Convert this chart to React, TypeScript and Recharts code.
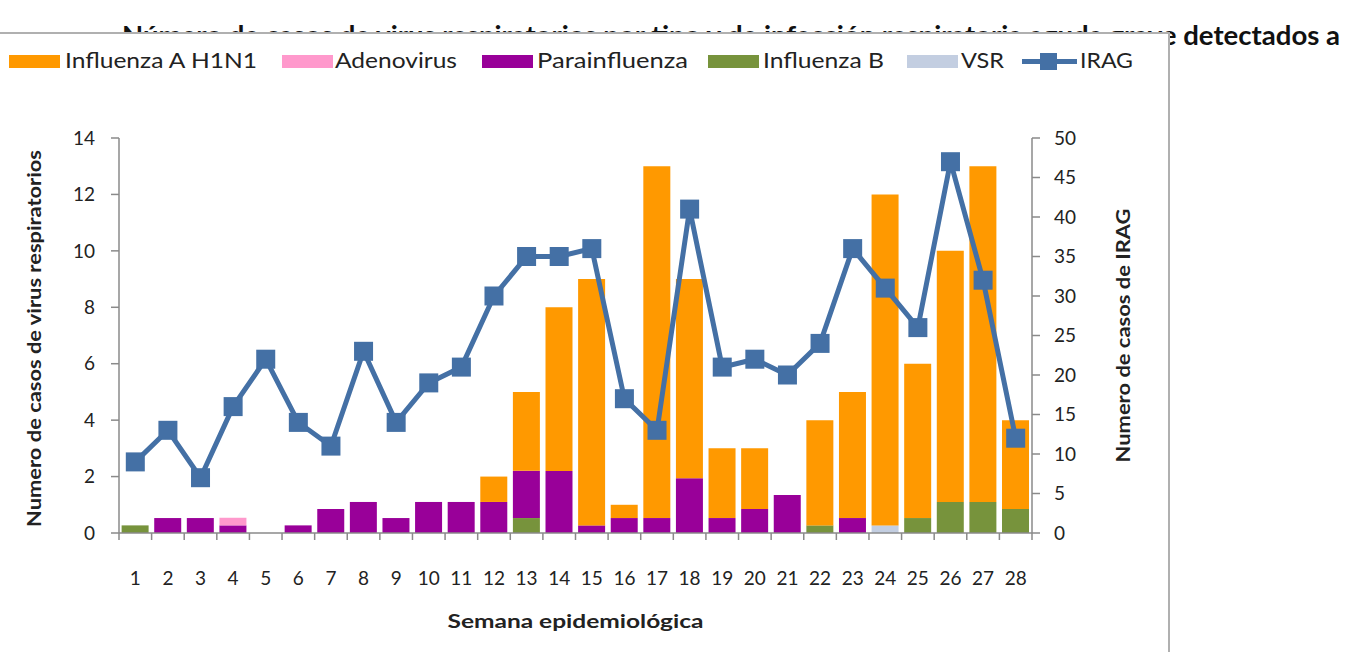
import React from 'react';
import { ComposedChart, Bar, Line, XAxis, YAxis } from 'recharts';

// ---------- data ----------
const weeks = ['1','2','3','4','5','6','7','8','9','10','11','12','13','14','15','16','17','18','19','20','21','22','23','24','25','26','27','28'];
// stacked segment heights (left axis)
const influenzaB = [0.27,0,0,0,0,0,0,0,0,0,0,0,0.53,0,0,0,0,0,0,0,0,0.27,0,0,0.53,1.1,1.1,0.85];
const vsr =        [0,0,0,0,0,0,0,0,0,0,0,0,0,0,0,0,0,0,0,0,0,0,0,0.27,0,0,0,0];
const parainfluenza = [0,0.53,0.53,0.27,0,0.27,0.85,1.1,0.53,1.1,1.1,1.1,1.68,2.2,0.27,0.53,0.53,1.94,0.53,0.85,1.35,0,0.53,0,0,0,0,0];
const adenovirus = [0,0,0,0.27,0,0,0,0,0,0,0,0,0,0,0,0,0,0,0,0,0,0,0,0,0,0,0,0];
const h1n1 =       [0,0,0,0,0,0,0,0,0,0,0,0.9,2.79,5.8,8.73,0.47,12.47,7.06,2.47,2.15,0,3.73,4.47,11.73,5.47,8.9,11.9,3.15];
// line (right axis)
const irag = [9,13,7,16,22,14,11,23,14,19,21,30,35,35,36,17,13,41,21,22,20,24,36,31,26,47,32,12];

const leftTicks = [0,2,4,6,8,10,12,14];
const rightTicks = [0,5,10,15,20,25,30,35,40,45,50];

const TITLE = 'Número de casos de virus respiratorios por tipo y de infección respiratoria aguda grave detectados a';
const X_TITLE = 'Semana epidemiológica';
const Y_LEFT_TITLE = 'Numero de casos  de virus  respiratorios';
const Y_RIGHT_TITLE = 'Numero de casos  de  IRAG';

const COLORS = {
  h1n1: '#FF9900',
  adeno: '#FF99CC',
  para: '#990099',
  infB: '#77933C',
  vsr: '#C3CEE1',
  irag: '#4470A5',
};

const legendItems = [
  { name: 'Influenza A H1N1', color: COLORS.h1n1, type: 'rect', sx: 9, tx: 65, tw: 192 },
  { name: 'Adenovirus', color: COLORS.adeno, type: 'rect', sx: 282, tx: 335, tw: 122 },
  { name: 'Parainfluenza', color: COLORS.para, type: 'rect', sx: 482, tx: 537, tw: 151 },
  { name: 'Influenza B', color: COLORS.infB, type: 'rect', sx: 708, tx: 763, tw: 121 },
  { name: 'VSR', color: COLORS.vsr, type: 'rect', sx: 907, tx: 961, tw: 43 },
  { name: 'IRAG', color: COLORS.irag, type: 'line', sx: 1022, tx: 1080, tw: 53 },
];

const data = weeks.map((w, i) => ({
  week: w,
  infB: influenzaB[i],
  vsr: vsr[i],
  para: parainfluenza[i],
  adeno: adenovirus[i],
  h1n1: h1n1[i],
  irag: irag[i],
}));

// ---------- layout ----------
const FONT = 'Lato, "Open Sans", sans-serif';
const AXIS = '#8a8a8a';
const TEXT = '#222';
const CHART_W = 1170;
const CHART_H = 619;
const CHART_TOP = 33;
const LEFT_W = 119;
const RIGHT_W = 138;
const PLOT_W = CHART_W - LEFT_W - RIGHT_W;
const STEP = PLOT_W / weeks.length;

const XTick = (props: any) => {
  const { x, y, payload, index } = props;
  return (
    <g>
      <line x1={x - STEP / 2} x2={x - STEP / 2} y1={y} y2={y + 7} stroke={AXIS} strokeWidth={1.5} />
      {index === weeks.length - 1 && (
        <line x1={x + STEP / 2} x2={x + STEP / 2} y1={y} y2={y + 7} stroke={AXIS} strokeWidth={1.5} />
      )}
      <text x={x} y={y + 44} textAnchor="middle" dominantBaseline="central" fontSize={19} fill={TEXT} fontFamily={FONT}>
        {payload.value}
      </text>
    </g>
  );
};

const SquareDot = (props: any) => {
  const { cx, cy, index } = props;
  if (cx == null || cy == null) return null;
  return <rect key={'d' + index} x={cx - 9.5} y={cy - 9.5} width={19} height={19} fill={COLORS.irag} />;
};

const xTitle = (p: any) => {
  const vb = p.viewBox;
  return (
    <text x={vb.x + vb.width / 2} y={vb.y + 87} textAnchor="middle" dominantBaseline="central"
      fontSize={19} fontWeight="bold" fill={TEXT} fontFamily={FONT} textLength={256} lengthAdjust="spacingAndGlyphs">
      {X_TITLE}
    </text>
  );
};

const leftTitle = (p: any) => {
  const vb = p.viewBox;
  const cx = vb.x + 33.5;
  const cy = vb.y + vb.height / 2 + 3;
  return (
    <text x={cx} y={cy} transform={`rotate(-90 ${cx} ${cy})`} textAnchor="middle" dominantBaseline="central"
      fontSize={19} fontWeight="bold" fill={TEXT} fontFamily={FONT} textLength={377} lengthAdjust="spacingAndGlyphs">
      {Y_LEFT_TITLE}
    </text>
  );
};

const rightTitle = (p: any) => {
  const vb = p.viewBox;
  const cx = vb.x + 90;
  const cy = vb.y + vb.height / 2;
  return (
    <text x={cx} y={cy} transform={`rotate(-90 ${cx} ${cy})`} textAnchor="middle" dominantBaseline="central"
      fontSize={19} fontWeight="bold" fill={TEXT} fontFamily={FONT} textLength={254} lengthAdjust="spacingAndGlyphs">
      {Y_RIGHT_TITLE}
    </text>
  );
};

export default function App() {
  return (
    <div style={{ position: 'absolute', left: 0, top: 0, width: 1345, height: 652, overflow: 'hidden', background: '#fff' }}>
      {/* title (partly covered by the chart frame, as in the source) */}
      <svg width={1345} height={60} style={{ position: 'absolute', left: 0, top: 0 }}>
        <text x={122} y={45} fontSize={27} fontWeight="bold" fill="#111" fontFamily={FONT}
          textLength={1218} lengthAdjust="spacingAndGlyphs">
          {TITLE}
        </text>
      </svg>
      {/* chart frame */}
      <div style={{ position: 'absolute', left: -2, top: 32, width: 1172, height: 640, boxSizing: 'border-box',
        borderTop: '2px solid #b0b0b0', borderRight: '2px solid #b0b0b0', borderLeft: '2px solid #b0b0b0', background: '#fff' }} />
      {/* legend */}
      <svg width={1170} height={40} style={{ position: 'absolute', left: 0, top: 42 }}>
        {legendItems.map((it) => (
          <g key={it.name}>
            {it.type === 'rect' ? (
              <rect x={it.sx} y={13} width={51} height={13} fill={it.color} />
            ) : (
              <g>
                <line x1={it.sx} x2={it.sx + 55} y1={19.5} y2={19.5} stroke={it.color} strokeWidth={5} />
                <rect x={it.sx + 18} y={11} width={17} height={17} fill={it.color} />
              </g>
            )}
            <text x={it.tx} y={26} fontSize={21} fill={TEXT} fontFamily={FONT} textLength={it.tw} lengthAdjust="spacingAndGlyphs">
              {it.name}
            </text>
          </g>
        ))}
      </svg>
      <div style={{ position: 'absolute', left: 0, top: CHART_TOP }}>
        <ComposedChart width={CHART_W} height={CHART_H} data={data}
          margin={{ top: 105, right: 0, bottom: 0, left: 0 }} barCategoryGap="8%">
          <XAxis xAxisId="x" dataKey="week" interval={0} tickLine={false} tickSize={0} tickMargin={0}
            height={119} axisLine={{ stroke: AXIS, strokeWidth: 1.5 }} tick={<XTick />} label={xTitle} />
          <YAxis yAxisId="left" orientation="left" width={LEFT_W} domain={[0, 14]} ticks={leftTicks}
            allowDataOverflow tickSize={8} tickMargin={16}
            axisLine={{ stroke: AXIS, strokeWidth: 1.5 }} tickLine={{ stroke: AXIS, strokeWidth: 1.5 }}
            tick={{ fontSize: 19, fill: TEXT, fontFamily: FONT }} label={leftTitle} />
          <YAxis yAxisId="right" orientation="right" width={RIGHT_W} domain={[0, 50]} ticks={rightTicks}
            allowDataOverflow tickSize={8} tickMargin={14}
            axisLine={{ stroke: AXIS, strokeWidth: 1.5 }} tickLine={{ stroke: AXIS, strokeWidth: 1.5 }}
            tick={{ fontSize: 19, fill: TEXT, fontFamily: FONT, textAnchor: 'start' }} label={rightTitle} />
          <Bar xAxisId="x" yAxisId="left" dataKey="infB" stackId="s" fill={COLORS.infB} isAnimationActive={false} />
          <Bar xAxisId="x" yAxisId="left" dataKey="vsr" stackId="s" fill={COLORS.vsr} isAnimationActive={false} />
          <Bar xAxisId="x" yAxisId="left" dataKey="para" stackId="s" fill={COLORS.para} isAnimationActive={false} />
          <Bar xAxisId="x" yAxisId="left" dataKey="adeno" stackId="s" fill={COLORS.adeno} isAnimationActive={false} />
          <Bar xAxisId="x" yAxisId="left" dataKey="h1n1" stackId="s" fill={COLORS.h1n1} isAnimationActive={false} />
          <Line xAxisId="x" yAxisId="right" dataKey="irag" stroke={COLORS.irag} strokeWidth={5}
            dot={<SquareDot />} activeDot={false} isAnimationActive={false} />
        </ComposedChart>
      </div>
    </div>
  );
}
